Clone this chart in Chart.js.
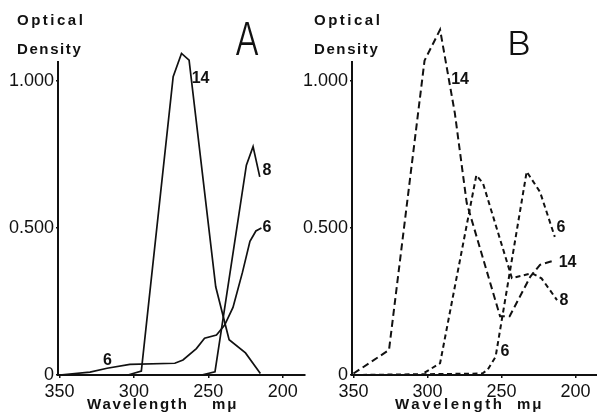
<!DOCTYPE html>
<html>
<head>
<meta charset="utf-8">
<script src="https://cdn.jsdelivr.net/npm/chart.js@4.4.1/dist/chart.umd.min.js"></script>
<style>
  html, body { margin: 0; padding: 0; background: #fff; }
  #wrap { position: relative; width: 597px; height: 417px; overflow: hidden; background: #fff; }
  #wrap canvas { position: absolute; top: 0; }
  #panelA { left: 0; }
  #panelB { left: 300px; }
</style>
</head>
<body>
<div id="wrap">
  <canvas id="panelA" width="310" height="417"></canvas>
  <canvas id="panelB" width="297" height="417"></canvas>
</div>
<script>
// Shared axes: wavelength in mμ (descending) and optical density
const wavelengthTicks = [350, 300, 250, 200];
const densityTicks = [0, 0.5, 1.0];
const densityTickLabels = ['0', '0.500', '1.000'];

// Panel A — solid curves for fractions 14, 8 and 6
const waveA14 = [304, 295, 273.6, 268, 262.9, 245, 236, 225, 215];
const odA14   = [0, 0.013, 1.015, 1.094, 1.071, 0.3, 0.12, 0.075, 0.005];
const waveA8  = [254.5, 245.5, 224.4, 219.9, 215.4];
const odA8    = [0, 0.011, 0.714, 0.777, 0.674];
const waveA6  = [350, 329.5, 318, 302.7, 272.5, 267, 258, 252.5, 244.5, 239, 233.4, 227, 222, 218, 214.3];
const odA6    = [0, 0.01, 0.023, 0.036, 0.04, 0.051, 0.09, 0.125, 0.136, 0.17, 0.23, 0.35, 0.455, 0.49, 0.5];

// Panel B — dashed curves for fractions 14, 8 and 6
const waveB14 = [350, 326, 302, 291.5, 281.5, 273.5, 251, 244.5, 230.5, 224, 214];
const odB14   = [0.005, 0.085, 1.07, 1.175, 0.89, 0.585, 0.2, 0.2, 0.335, 0.375, 0.39];
const waveB8  = [302, 291.5, 267, 262.5, 243, 229.5, 223, 212.5];
const odB8    = [0.008, 0.04, 0.68, 0.652, 0.33, 0.346, 0.329, 0.255];
const waveB6  = [350, 263, 259.5, 254, 233, 224, 214];
const odB6    = [0, 0.005, 0.017, 0.062, 0.692, 0.623, 0.47];

// Curve tags, anchored in data units (wavelength, density)
const tagsA = [['14', 255.2, 1.007], ['8', 210.5, 0.697], ['6', 210.5, 0.502], ['6', 317.7, 0.048]];
const tagsB = [['14', 278.0, 1.004], ['14', 205.4, 0.383], ['8', 207.8, 0.252], ['6', 209.8, 0.5], ['6', 247.6, 0.078]];

const INK = '#111';
const FONT = '"Liberation Sans", Arial, sans-serif';

function pts(xs, ys) { return xs.map((x, i) => ({ x: x, y: ys[i] })); }

function series(xs, ys, dash) {
  return {
    data: pts(xs, ys),
    borderColor: INK,
    borderWidth: dash ? 2 : 1.7,
    borderDash: dash || [],
    pointRadius: 0,
    tension: 0,
    fill: false,
    clip: false
  };
}

function decor(p) {
  return {
    id: 'decor',
    afterDraw(chart) {
      const { ctx, scales } = chart;
      ctx.save();
      ctx.fillStyle = INK;
      ctx.textBaseline = 'middle';
      ctx.textAlign = 'left';
      // y-axis caption
      ctx.font = 'bold 15px ' + FONT;
      ctx.letterSpacing = '2.5px';
      ctx.fillText('Optical', p.captionX, 21);
      ctx.letterSpacing = '1.6px';
      ctx.fillText('Density', p.captionX, 50);
      // x-axis caption
      ctx.letterSpacing = p.titleSpacing + 'px';
      ctx.fillText('Wavelength', p.titleX, 405);
      ctx.letterSpacing = '2px';
      ctx.fillText('mμ', p.unitX, 405);
      // curve tags
      ctx.letterSpacing = '0px';
      ctx.font = 'bold 16px ' + FONT;
      ctx.textAlign = 'center';
      p.tags.forEach(([t, nm, od]) => {
        ctx.fillText(t, scales.x.getPixelForValue(nm), scales.y.getPixelForValue(od));
      });
      // panel letter
      ctx.font = '300 ' + p.letterSize + 'px Inter, ' + FONT;
      ctx.textBaseline = 'alphabetic';
      ctx.translate(p.letterX, p.letterY);
      ctx.scale(p.letterScale, 1);
      ctx.fillText(p.letter, 0, 0);
      ctx.restore();
    }
  };
}

function makePanel(id, datasets, axisWidth, xMin, xMax, padRight, p) {
  return new Chart(document.getElementById(id), {
    type: 'line',
    data: { datasets: datasets },
    options: {
      responsive: false,
      animation: false,
      events: [],
      layout: { padding: { top: 62, left: 0, right: padRight, bottom: 0 } },
      plugins: { legend: { display: false }, tooltip: { enabled: false } },
      scales: {
        x: {
          type: 'linear',
          reverse: true,
          min: xMin,
          max: xMax,
          afterBuildTicks: s => { s.ticks = wavelengthTicks.map(v => ({ value: v })); },
          afterFit: s => { s.height = 42; },
          border: { display: true, color: INK, width: 2 },
          grid: { display: true, drawOnChartArea: false, drawTicks: true, tickLength: 3, color: INK, lineWidth: 1.5 },
          ticks: { color: INK, font: { family: FONT, size: 18 }, padding: 3, maxRotation: 0, autoSkip: false }
        },
        y: {
          type: 'linear',
          min: 0,
          max: 1.065,
          afterBuildTicks: s => { s.ticks = densityTicks.map(v => ({ value: v })); },
          afterFit: s => { s.width = axisWidth; },
          border: { display: true, color: INK, width: 2 },
          grid: { display: true, drawOnChartArea: false, drawTicks: true, tickLength: 2, color: INK, lineWidth: 1.5 },
          ticks: {
            color: INK,
            font: { family: FONT, size: 18 },
            padding: 2,
            callback: v => densityTickLabels[densityTicks.indexOf(v)]
          }
        }
      }
    },
    plugins: [decor(p)]
  });
}

makePanel('panelA', [
  series(waveA14, odA14),
  series(waveA8, odA8),
  series(waveA6, odA6)
], 58, 185, 351, 5, {
  captionX: 17, titleX: 87, titleSpacing: 1.8, unitX: 212,
  tags: tagsA, letter: 'A', letterSize: 45, letterX: 247, letterY: 55, letterScale: 0.8
});

makePanel('panelB', [
  series(waveB14, odB14, [7, 4]),
  series(waveB8, odB8, [5, 3.5]),
  series(waveB6, odB6, [5, 3.5])
], 52, 185.5, 351, 0, {
  captionX: 14, titleX: 95, titleSpacing: 2.6, unitX: 217,
  tags: tagsB, letter: 'B', letterSize: 32, letterX: 219, letterY: 55, letterScale: 1.15
});
</script>
</body>
</html>
